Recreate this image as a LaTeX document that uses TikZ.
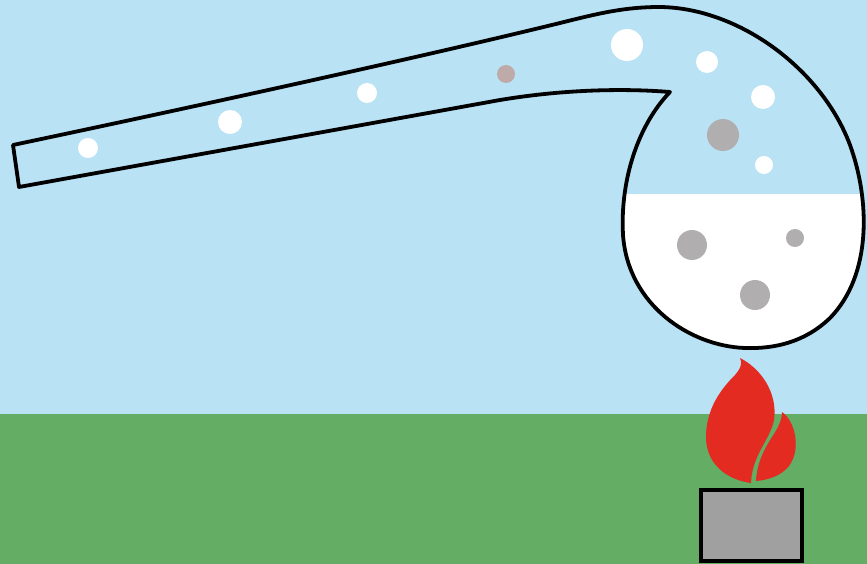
\documentclass[tikz,border=0pt]{standalone}
\usetikzlibrary{positioning}

\definecolor{sky}{RGB}{185,226,244}
\definecolor{grass}{RGB}{99,173,101}
\definecolor{flame}{RGB}{227,43,34}
\definecolor{burner}{RGB}{160,160,160}
\definecolor{residue}{RGB}{176,174,174}
\definecolor{vapour}{RGB}{190,170,168}

\begin{document}
\begin{tikzpicture}[x=1pt, y=-1pt,
  glass/.style={line width=3.8pt, line join=round},
  fire/.style={fill=flame}]
  %----- 背景 -----
  \useasboundingbox (0,0) rectangle (867,564);
  \fill[sky]   (0,0)   rectangle (867,414);
  \fill[grass] (0,414) rectangle (867,564);

  %----- 曲頸瓶外形 (tube + bulb) -----
  \def\retort{
    (13,145) .. controls (250,95) and (450,50) .. (560,23)
    .. controls (600,13) and (625,7) .. (660,7)
    .. controls (740,8) and (822,70) .. (850,145)
    .. controls (870,200) and (872,275) .. (830,318)
    .. controls (805,342) and (775,349) .. (745,348)
    .. controls (690,346) and (628,305) .. (623,235)
    .. controls (620,180) and (638,125) .. (670,92)
    .. controls (620,88) and (560,90) .. (500,100)
    -- (19,187) -- cycle}

  % 液體:瓶內 y>194 的部分填白
  \begin{scope}
    \clip \retort;
    \fill[white] (600,194) rectangle (870,360);
  \end{scope}
  \draw[glass] \retort;

  %----- 氣泡 (x, y, r, color) -----
  \def\bubble#1#2#3#4{\fill[#4] (#1,#2) circle[radius=#3];}
  % 管內
  \bubble{88}{148}{10}{white}
  \bubble{230}{122}{12}{white}
  \bubble{367}{93}{10}{white}
  \bubble{506}{74}{9}{vapour}
  % 瓶上方
  \bubble{627}{45}{16}{white}
  \bubble{707}{62}{11}{white}
  \bubble{763}{97}{12}{white}
  \bubble{723}{135}{16}{residue}
  \bubble{764}{165}{9}{white}
  % 液體內
  \bubble{692}{245}{15}{residue}
  \bubble{795}{238}{9}{residue}
  \bubble{755}{295}{15}{residue}

  %----- 火焰 -----
  \fill[fire] (740,358) .. controls (760,368) and (778,392) .. (774,420)
    .. controls (770,440) and (752,455) .. (751,483)
    .. controls (728,480) and (706,465) .. (706,437)
    .. controls (706,408) and (722,388) .. (735,375)
    .. controls (742,367) and (742,362) .. (740,358) -- cycle;
  \fill[fire] (782,412) .. controls (796,422) and (801,450) .. (789,466)
    .. controls (781,476) and (768,480) .. (756,481)
    .. controls (757,462) and (765,448) .. (772,437)
    .. controls (778,428) and (782,420) .. (782,412) -- cycle;

  %----- 燈座 -----
  \draw[line width=4pt, fill=burner] (701,490) rectangle (802,561);
\end{tikzpicture}
\end{document}
